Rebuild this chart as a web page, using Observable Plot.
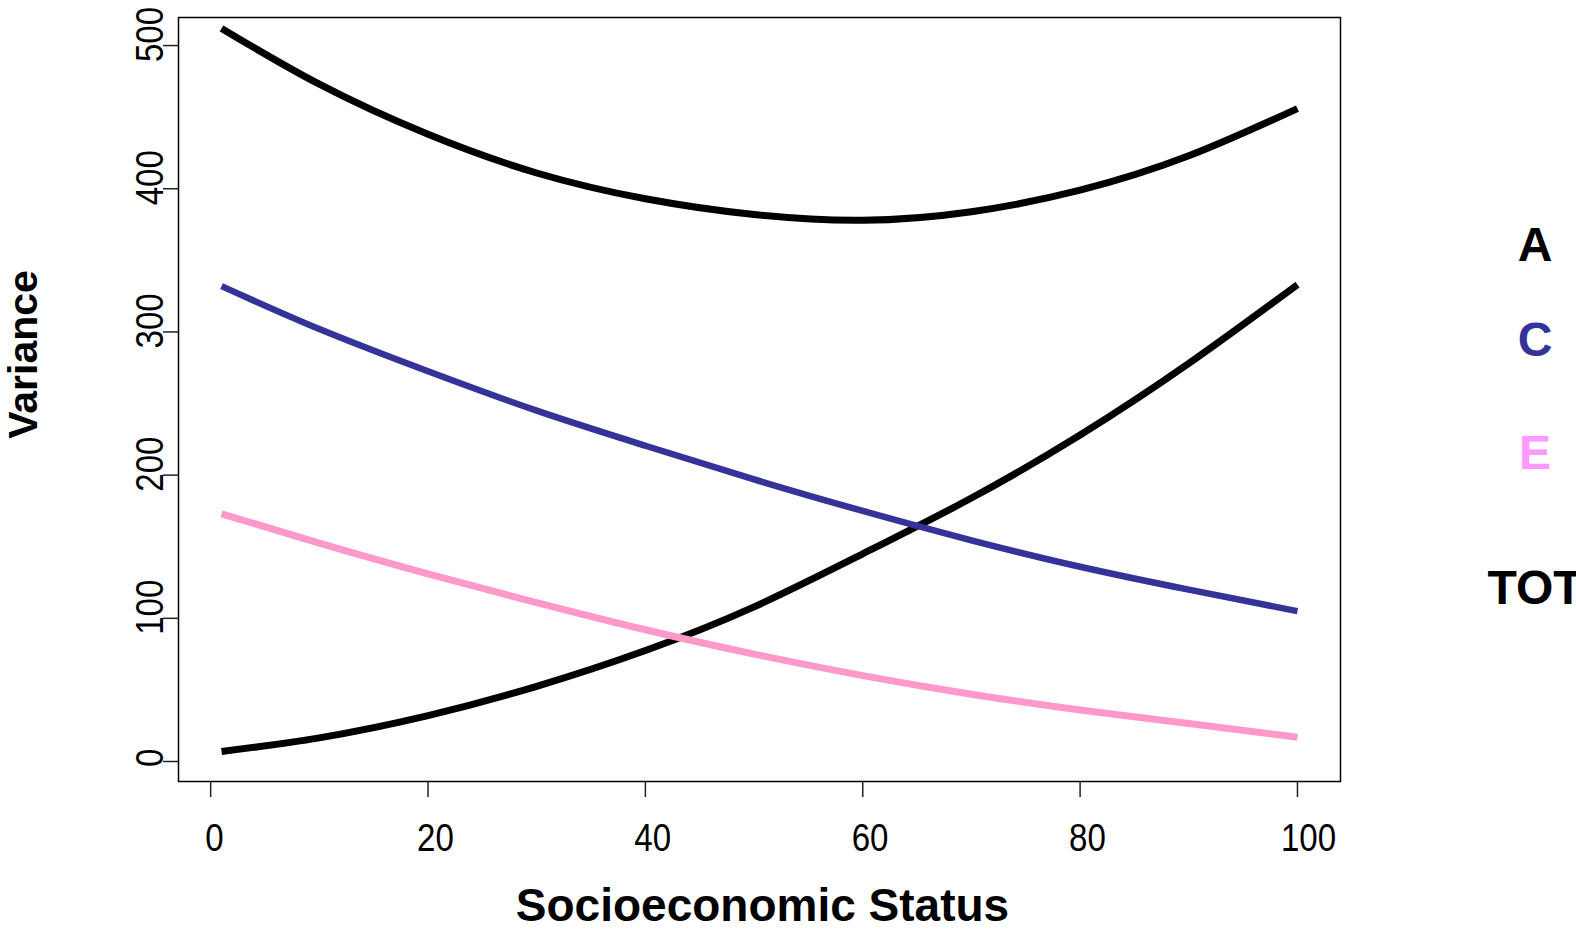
<!DOCTYPE html>
<html>
<head>
<meta charset="utf-8">
<script src="https://cdn.jsdelivr.net/npm/d3@7"></script>
<script src="https://cdn.jsdelivr.net/npm/@observablehq/plot@0.6"></script>
<style>
  html, body { margin: 0; padding: 0; background: #fff; overflow: hidden; }
  #wrap { position: relative; width: 1576px; height: 930px; }
  #legend span {
    position: absolute; transform: translate(-50%, -50%);
    font-family: "Liberation Sans", Arial, sans-serif; font-weight: bold;
    font-size: 48px; line-height: 1; white-space: nowrap; left: 1535px;
  }
</style>
</head>
<body>
<div id="wrap">
  <div id="chart"></div>
  <div id="legend"></div>
</div>
<script>
// Socioeconomic status (x) and variance components
const ses      = [1, 10, 20, 30, 40, 50, 60, 70, 80, 90, 100];
const varA     = [7, 16.5, 32, 52.5, 77.5, 108, 145, 184, 228, 278, 333];
const varC     = [332, 302, 272.5, 245, 220.5, 197, 175, 154.5, 136, 120, 105];
const varE     = [173, 152.5, 131, 111, 92, 75, 60, 47, 36, 26.5, 17];
const varTOT   = [512, 473, 438, 411, 393, 382, 378, 384, 399, 423, 456];

const seriesNames  = ["A", "C", "E", "TOT"];
const seriesValues = [varA, varC, varE, varTOT];
const lineColors   = {A: "#000000", C: "#333399", E: "#FF99CC", TOT: "#000000"};
const lineWidths   = {A: 7, C: 6.5, E: 7, TOT: 7};
const legendColors = {A: "#000000", C: "#333399", E: "#FF99FF", TOT: "#000000"};

const xTicks = [0, 20, 40, 60, 80, 100];
const yTicks = [0, 100, 200, 300, 400, 500];
const xTitle = "Socioeconomic Status";
const yTitle = "Variance";

const rows = seriesNames.flatMap((name, i) =>
  ses.map((s, j) => ({series: name, ses: s, value: seriesValues[i][j]})));

const tickFont = '"Liberation Sans", Arial, sans-serif';
const titleFont = '"Liberation Sans", Arial, sans-serif';

const lineOrder = ["TOT", "A", "C", "E"];

const chart = Plot.plot({
  width: 1576,
  height: 930,
  marginLeft: 178,
  marginTop: 17,
  marginRight: 236,
  marginBottom: 149,
  style: {fontFamily: tickFont, background: "white"},
  x: {domain: [-2.96, 103.96]},
  y: {domain: [-13.97, 519.6]},
  marks: [
    Plot.frame({stroke: "black", strokeWidth: 1.5}),
    Plot.axisX({ticks: xTicks, tickSize: 16, tickPadding: 27, fontSize: 38, tickFormat: d => String(d),
                stroke: "#222", strokeWidth: 1.5, label: null}),
    Plot.axisY({ticks: yTicks, tickSize: 15, tickPadding: 1, tickRotate: -90, fontSize: 38, tickFormat: d => String(d),
                stroke: "#222", strokeWidth: 1.5, label: null}),
    Plot.text([xTitle], {frameAnchor: "bottom", text: d => d, textAnchor: "middle", lineAnchor: "bottom", dy: 139, dx: 3,
                fontSize: 46, fontWeight: "bold", fontFamily: titleFont, fill: "black"}),
    Plot.text([yTitle], {frameAnchor: "left", text: d => d, textAnchor: "middle", rotate: -90, lineAnchor: "top", dx: -171, dy: -45,
                fontSize: 41, fontWeight: "bold", fontFamily: titleFont, fill: "black"}),
    ...lineOrder.map(name => Plot.line(rows.filter(d => d.series === name), {
      x: "ses", y: "value", stroke: lineColors[name], strokeWidth: lineWidths[name],
      strokeLinecap: "butt", curve: "natural"
    }))
  ]
});

document.getElementById("chart").appendChild(chart);

// Condense the tick-label glyphs (the reference uses a narrow sans face)
// and nudge them slightly along their reading direction, as in the reference.
d3.select(chart).selectAll('g[aria-label="x-axis tick label"] text, g[aria-label="y-axis tick label"] text')
  .each(function() {
    const len = this.getComputedTextLength();
    const w = len * 0.87;
    this.setAttribute("textLength", w.toFixed(2));
    this.setAttribute("lengthAdjust", "spacingAndGlyphs");
    if (!this.getAttribute("dx")) this.setAttribute("dx", (0.2 * w).toFixed(2));
  });

// Legend labels at the right
const legendTops = {A: 245, C: 340, E: 453, TOT: 588};
const legend = d3.select("#legend");
seriesNames.forEach(name => {
  legend.append("span")
    .style("top", legendTops[name] + "px")
    .style("color", legendColors[name])
    .text(name);
});
</script>
</body>
</html>
